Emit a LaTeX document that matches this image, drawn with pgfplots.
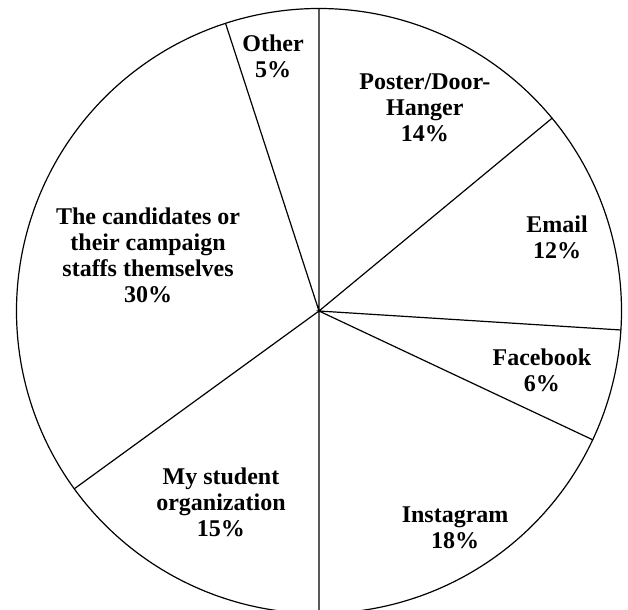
\documentclass[border=0pt]{standalone}
\usepackage{fontspec}
\setmainfont{Liberation Serif}
\usepackage{pgfplots}
\pgfplotsset{compat=1.18}
\usepackage{pgfplotstable}

% slice boundaries, cumulative percent clockwise from 12 o'clock
% (each boundary listed twice: rim point, then back to centre)
\pgfplotstableread{
cum r
0  1
0  0
14 1
14 0
26 1
26 0
32 1
32 0
50 1
50 0
65 1
65 0
95 1
95 0
}\bounds

\tikzset{lbl/.style={font=\fontsize{12}{13}\selectfont\bfseries, align=center, inner sep=0pt}}

\begin{document}
\begin{tikzpicture}
\begin{axis}[
    x=151.25pt, y=151.25pt,
    hide axis,
    xmin=-1.0545, xmax=1.0215,
    ymin=-0.9851, ymax=1.0281,
    clip=true,
]
\coordinate (bl) at (axis cs:-1.0545,-0.9851);
\coordinate (tr) at (axis cs:1.0215,1.0281);

% rim
\addplot[black, line width=0.6pt, domain=0:360, samples=361, smooth]
    ({cos(x)},{sin(x)});

% slice edges
\addplot[black, line width=0.6pt] table[
    x expr={\thisrow{r}*sin(3.6*\thisrow{cum})},
    y expr={\thisrow{r}*cos(3.6*\thisrow{cum})},
] {\bounds};

\node[lbl] at (axis cs:-0.152,0.843) {Other\\5\%};
\node[lbl] at (axis cs:0.350,0.671) {Poster/Door-\\Hanger\\14\%};
\node[lbl] at (axis cs:0.787,0.245) {Email\\12\%};
\node[lbl] at (axis cs:0.737,-0.195) {Facebook\\6\%};
\node[lbl] at (axis cs:0.450,-0.717) {Instagram\\18\%};
\node[lbl] at (axis cs:-0.324,-0.631) {My student\\organization\\15\%};
\node[lbl] at (axis cs:-0.565,0.185) {The candidates or\\their campaign\\staffs themselves\\30\%};
\end{axis}
\pgfresetboundingbox
\useasboundingbox (bl) rectangle (tr);
\end{tikzpicture}
\end{document}
